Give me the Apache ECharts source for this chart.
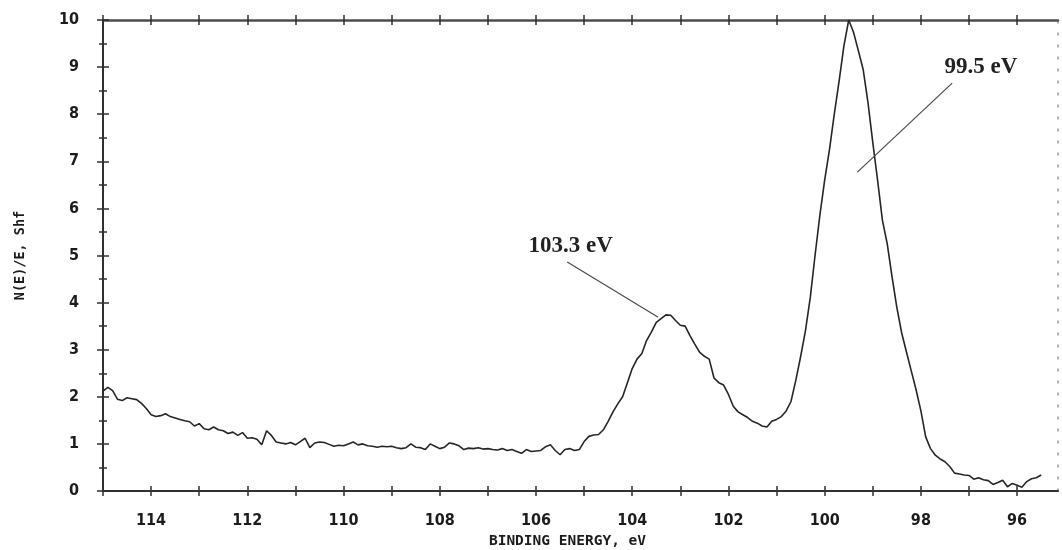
<!DOCTYPE html>
<html>
<head>
<meta charset="utf-8">
<title>XPS Si 2p spectrum</title>
<script src="https://cdn.jsdelivr.net/npm/echarts@6/dist/echarts.min.js"></script>
<style>
  html, body { margin: 0; padding: 0; background: #ffffff; }
  #chart { width: 1062px; height: 550px; }
</style>
</head>
<body>
<div id="chart"></div>
<script>
// Binding energy (eV), sampled every 0.1 eV from 115.0 down to 95.5
const energies = [
  115.0, 114.9, 114.8, 114.7, 114.6, 114.5, 114.4, 114.3, 114.2, 114.1,
  114.0, 113.9, 113.8, 113.7, 113.6, 113.5, 113.4, 113.3, 113.2, 113.1,
  113.0, 112.9, 112.8, 112.7, 112.6, 112.5, 112.4, 112.3, 112.2, 112.1,
  112.0, 111.9, 111.8, 111.7, 111.6, 111.5, 111.4, 111.3, 111.2, 111.1,
  111.0, 110.9, 110.8, 110.7, 110.6, 110.5, 110.4, 110.3, 110.2, 110.1,
  110.0, 109.9, 109.8, 109.7, 109.6, 109.5, 109.4, 109.3, 109.2, 109.1,
  109.0, 108.9, 108.8, 108.7, 108.6, 108.5, 108.4, 108.3, 108.2, 108.1,
  108.0, 107.9, 107.8, 107.7, 107.6, 107.5, 107.4, 107.3, 107.2, 107.1,
  107.0, 106.9, 106.8, 106.7, 106.6, 106.5, 106.4, 106.3, 106.2, 106.1,
  106.0, 105.9, 105.8, 105.7, 105.6, 105.5, 105.4, 105.3, 105.2, 105.1,
  105.0, 104.9, 104.8, 104.7, 104.6, 104.5, 104.4, 104.3, 104.2, 104.1,
  104.0, 103.9, 103.8, 103.7, 103.6, 103.5, 103.4, 103.3, 103.2, 103.1,
  103.0, 102.9, 102.8, 102.7, 102.6, 102.5, 102.4, 102.3, 102.2, 102.1,
  102.0, 101.9, 101.8, 101.7, 101.6, 101.5, 101.4, 101.3, 101.2, 101.1,
  101.0, 100.9, 100.8, 100.7, 100.6, 100.5, 100.4, 100.3, 100.2, 100.1,
  100.0, 99.9, 99.8, 99.7, 99.6, 99.5, 99.4, 99.3, 99.2, 99.1,
  99.0, 98.9, 98.8, 98.7, 98.6, 98.5, 98.4, 98.3, 98.2, 98.1,
  98.0, 97.9, 97.8, 97.7, 97.6, 97.5, 97.4, 97.3, 97.2, 97.1,
  97.0, 96.9, 96.8, 96.7, 96.6, 96.5, 96.4, 96.3, 96.2, 96.1,
  96.0, 95.9, 95.8, 95.7, 95.6, 95.5
];

// N(E)/E intensity at each binding energy
const counts = [
  2.12, 2.20, 2.13, 1.95, 1.92, 1.98, 1.96, 1.94, 1.86, 1.75,
  1.62, 1.58, 1.60, 1.64, 1.58, 1.55, 1.52, 1.49, 1.47, 1.38,
  1.43, 1.32, 1.30, 1.36, 1.30, 1.28, 1.22, 1.25, 1.18, 1.24,
  1.12, 1.13, 1.10, 0.98, 1.28, 1.18, 1.04, 1.02, 1.00, 1.03,
  0.98, 1.05, 1.12, 0.92, 1.02, 1.04, 1.03, 0.99, 0.95, 0.97,
  0.96, 1.00, 1.04, 0.98, 1.00, 0.96, 0.95, 0.93, 0.95, 0.94,
  0.95, 0.92, 0.90, 0.92, 1.00, 0.93, 0.92, 0.88, 1.00, 0.95,
  0.90, 0.93, 1.02, 1.00, 0.96, 0.88, 0.91, 0.90, 0.92, 0.89,
  0.90, 0.88, 0.87, 0.90, 0.86, 0.88, 0.84, 0.80, 0.88, 0.84,
  0.85, 0.86, 0.94, 0.98, 0.86, 0.77, 0.88, 0.90, 0.86, 0.88,
  1.05, 1.16, 1.19, 1.20, 1.30, 1.48, 1.68, 1.85, 2.00, 2.30,
  2.60, 2.80, 2.92, 3.20, 3.38, 3.58, 3.66, 3.74, 3.73, 3.62,
  3.52, 3.50, 3.30, 3.12, 2.95, 2.86, 2.80, 2.40, 2.30, 2.25,
  2.05, 1.80, 1.68, 1.62, 1.56, 1.48, 1.44, 1.38, 1.36, 1.48,
  1.52, 1.58, 1.70, 1.90, 2.35, 2.85, 3.40, 4.10, 5.00, 5.85,
  6.60, 7.25, 8.00, 8.70, 9.45, 10.0, 9.74, 9.35, 8.95, 8.25,
  7.40, 6.60, 5.75, 5.25, 4.55, 3.90, 3.36, 2.95, 2.55, 2.15,
  1.70, 1.15, 0.90, 0.76, 0.68, 0.62, 0.52, 0.38, 0.36, 0.34,
  0.33, 0.25, 0.28, 0.24, 0.22, 0.14, 0.18, 0.23, 0.09, 0.16,
  0.12, 0.08, 0.20, 0.26, 0.28, 0.34
];

// Tick marks every 1 eV, labels every 2 eV
const xTickValues = [96, 97, 98, 99, 100, 101, 102, 103, 104, 105, 106, 107, 108, 109, 110, 111, 112, 113, 114, 115];
const xLabelValues = [96, 98, 100, 102, 104, 106, 108, 110, 112, 114];

// Fitted peak positions (eV)
const peakEnergies = [103.3, 99.5];

const X_MIN = 95.15;
const X_MAX = 115;

const INK = '#262626';
const tickFont = {
  fontFamily: "'Liberation Sans Narrow', 'DejaVu Sans Condensed', 'DejaVu Sans', sans-serif",
  fontWeight: 'bold',
  fontSize: 16,
  color: '#1c1c1c'
};
const titleFont = {
  fontFamily: "'DejaVu Sans Mono', 'Liberation Mono', monospace",
  fontWeight: 'bold',
  color: '#1c1c1c'
};

// Energy axes: each edge gets an outward and an inward copy so the ticks cross the frame
function energyAxis(position, inside, withLine) {
  const showLabels = withLine && position === 'bottom';
  return {
    type: 'value',
    position: position,
    min: X_MIN,
    max: X_MAX,
    inverse: true,
    axisLine: {
      show: withLine,
      onZero: false,
      lineStyle: { color: position === 'top' ? '#4d4d4d' : '#303030', width: position === 'top' ? 2.5 : 2 }
    },
    axisTick: {
      show: true,
      inside: inside,
      length: 5,
      customValues: xTickValues,
      lineStyle: { color: '#303030', width: 1.5 }
    },
    axisLabel: showLabels
      ? Object.assign({ show: true, customValues: xLabelValues, margin: 22 }, tickFont)
      : { show: false },
    splitLine: { show: false },
    name: showLabels ? 'BINDING ENERGY, eV' : '',
    nameLocation: 'middle',
    nameGap: 41,
    nameTextStyle: Object.assign({ fontSize: 14.5, padding: [0, 26, 0, 0] }, titleFont)
  };
}

function intensityAxis(inside, withLine) {
  return {
    type: 'value',
    position: 'left',
    min: 0,
    max: 10,
    interval: 1,
    axisLine: { show: withLine, onZero: false, lineStyle: { color: '#303030', width: 2 } },
    axisTick: { show: true, inside: inside, length: 6, lineStyle: { color: '#303030', width: 1.5 } },
    minorTick: { show: true, splitNumber: 2, length: 4, lineStyle: { color: '#303030', width: 1.5 } },
    axisLabel: withLine ? Object.assign({ margin: 24 }, tickFont) : { show: false },
    splitLine: { show: false },
    minorSplitLine: { show: false },
    name: withLine ? 'N(E)/E, Shf' : '',
    nameLocation: 'middle',
    nameGap: 76,
    nameTextStyle: Object.assign({ fontSize: 13.5 }, titleFont)
  };
}

const spectrum = energies.map((e, i) => [e, counts[i]]);

const chart = echarts.init(document.getElementById('chart'), null, { renderer: 'canvas' });

chart.setOption({
  animation: false,
  backgroundColor: '#ffffff',
  grid: { left: 103, right: 4, top: 20, bottom: 59, containLabel: false, outerBoundsMode: 'none' },
  xAxis: [
    energyAxis('bottom', false, true),
    energyAxis('bottom', true, false),
    energyAxis('top', false, true),
    energyAxis('top', true, false)
  ],
  yAxis: [
    intensityAxis(false, true),
    intensityAxis(true, false),
    {
      type: 'value',
      position: 'right',
      min: 0,
      max: 10,
      axisLine: { show: true, lineStyle: { color: '#9a9a9a', width: 1.5, type: [2, 10] } },
      axisTick: { show: false },
      axisLabel: { show: false },
      splitLine: { show: false }
    }
  ],
  series: [
    {
      type: 'line',
      xAxisIndex: 0,
      yAxisIndex: 0,
      data: spectrum,
      showSymbol: false,
      symbol: 'none',
      smooth: false,
      lineStyle: { color: INK, width: 1.6 },
      silent: true,
      markLine: {
        silent: true,
        symbol: ['none', 'none'],
        label: { show: false },
        lineStyle: { color: '#4a4a4a', width: 1.2, type: 'solid' },
        data: [
          [{ coord: [105.35, 4.86] }, { coord: [103.46, 3.69] }],
          [{ coord: [97.35, 8.66] }, { coord: [99.32, 6.77] }]
        ]
      },
      markPoint: {
        silent: true,
        symbol: 'circle',
        symbolSize: 1,
        itemStyle: { color: 'rgba(0,0,0,0)' },
        label: {
          show: true,
          position: 'inside',
          formatter: '{b}',
          fontFamily: "'Liberation Serif', 'DejaVu Serif', serif",
          fontWeight: 'bold',
          fontSize: 23,
          color: '#222222'
        },
        data: [
          { name: peakEnergies[0].toFixed(1) + ' eV', coord: [105.28, 5.2] },
          { name: peakEnergies[1].toFixed(1) + ' eV', coord: [96.75, 9.0] }
        ]
      }
    }
  ]
});
</script>
</body>
</html>
